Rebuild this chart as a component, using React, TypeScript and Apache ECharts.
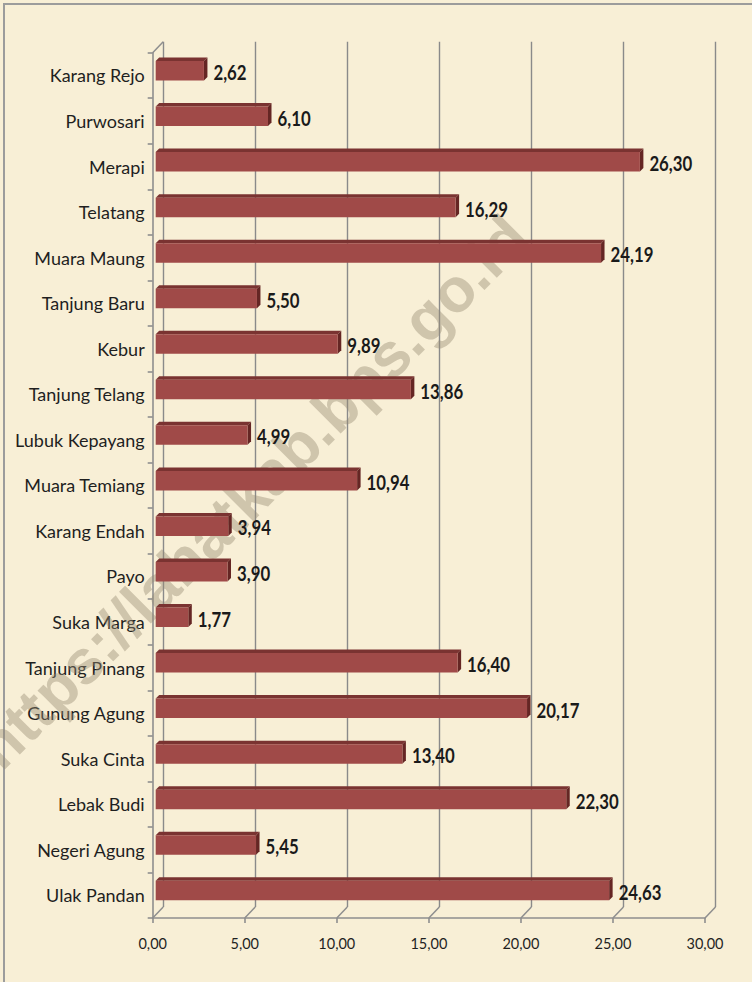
import React, { useEffect, useRef } from "react";
import * as echarts from "echarts";

const categories = [
  "Karang Rejo", "Purwosari", "Merapi", "Telatang", "Muara Maung", "Tanjung Baru",
  "Kebur", "Tanjung Telang", "Lubuk Kepayang", "Muara Temiang", "Karang Endah", "Payo",
  "Suka Marga", "Tanjung Pinang", "Gunung Agung", "Suka Cinta", "Lebak Budi",
  "Negeri Agung", "Ulak Pandan",
];
const values = [
  2.62, 6.1, 26.3, 16.29, 24.19, 5.5, 9.89, 13.86, 4.99, 10.94, 3.94, 3.9, 1.77,
  16.4, 20.17, 13.4, 22.3, 5.45, 24.63,
];
const xTicks = [0, 5, 10, 15, 20, 25, 30];
const watermarkText = "https://lahatkab.bps.go.id";

const FONT = "Lato, Roboto, sans-serif";
const fmt = (v: number) => v.toFixed(2).replace(".", ",");

// geometry (pixels)
const FRONT = { left: 152.7, top: 52.7, width: 552.3, height: 865.3 };
const DEPTH = { dx: 10.5, dy: -11 };

export default function App() {
  const ref = useRef<HTMLDivElement>(null);
  useEffect(() => {
    if (!ref.current) return;
    const chart = echarts.init(ref.current, null, { renderer: "svg" });
    const barData = values.map((v, i) => [v, i]);
    chart.setOption({
      animation: false,
      backgroundColor: "#F8EFD6",
      grid: [
        { left: FRONT.left, top: FRONT.top, width: FRONT.width, height: FRONT.height },
        {
          left: FRONT.left + DEPTH.dx,
          top: FRONT.top + DEPTH.dy,
          width: FRONT.width,
          height: FRONT.height,
        },
      ],
      xAxis: [
        {
          type: "value",
          gridIndex: 0,
          min: 0,
          max: 30,
          interval: 5,
          axisLine: { show: true, lineStyle: { color: "#8E8E8E", width: 1.6 } },
          axisTick: { show: true, length: 5, lineStyle: { color: "#8E8E8E", width: 1.6 } },
          splitLine: { show: false },
          axisLabel: {
            formatter: (v: number) => fmt(v),
            color: "#1f1f1f",
            fontFamily: FONT,
            fontSize: 14.5,
            margin: 18,
          },
        },
        {
          type: "value",
          gridIndex: 1,
          min: 0,
          max: 30,
          interval: 5,
          axisLine: { show: false },
          axisTick: { show: false },
          axisLabel: { show: false },
          splitLine: { show: true, lineStyle: { color: "#8A8A8A", width: 1.4 } },
        },
      ],
      yAxis: [
        {
          type: "category",
          gridIndex: 0,
          data: categories,
          inverse: true,
          axisLine: { show: true, lineStyle: { color: "#8E8E8E", width: 1.6 } },
          axisTick: { show: true, length: 5, lineStyle: { color: "#8E8E8E", width: 1.6 } },
          axisLabel: {
            color: "#1f1f1f",
            fontFamily: FONT,
            fontSize: 18,
            margin: 8,
          },
        },
        {
          type: "category",
          gridIndex: 1,
          data: categories,
          inverse: true,
          show: false,
        },
      ],
      graphic: [
        {
          type: "rect",
          z: 0,
          shape: { x: 4, y: 4, width: 800, height: 1000 },
          style: { fill: "none", stroke: "#9C9C9C", lineWidth: 2 },
        },
        {
          type: "text",
          z: 1,
          x: 252,
          y: 492,
          rotation: Math.PI / 4,
          style: {
            text: watermarkText,
            font: "bold 62px 'Liberation Sans', Arial, sans-serif",
            fill: "rgba(150,138,115,0.42)",
            align: "center",
            verticalAlign: "middle",
          },
        },
      ],
      series: [
        {
          type: "custom",
          xAxisIndex: 0,
          yAxisIndex: 0,
          z: 3,
          silent: true,
          data: xTicks.map((t) => [t, 0]),
          renderItem: (params: any, api: any) => {
            const cs = params.coordSys;
            const x = api.coord([api.value(0), 0])[0];
            const yb = cs.y + cs.height;
            const children: any[] = [
              {
                type: "line",
                shape: { x1: x, y1: yb, x2: x + DEPTH.dx, y2: yb + DEPTH.dy },
                style: { stroke: "#8E8E8E", lineWidth: 1.5 },
              },
            ];
            if (params.dataIndex === 0) {
              children.push({
                type: "line",
                shape: { x1: cs.x, y1: cs.y, x2: cs.x + DEPTH.dx, y2: cs.y + DEPTH.dy },
                style: { stroke: "#8E8E8E", lineWidth: 1.5 },
              });
            }
            return { type: "group", children };
          },
        },
        {
          type: "custom",
          xAxisIndex: 0,
          yAxisIndex: 0,
          z: 5,
          silent: true,
          data: barData,
          renderItem: (params: any, api: any) => {
            const val = api.value(0);
            const idx = api.value(1);
            const p0 = api.coord([0, idx]);
            const p1 = api.coord([val, idx]);
            const fx = 3;
            const fy = -4.7;
            const H = 19.5;
            const dx = 3.5;
            const dy = -3.5;
            const x0 = p0[0] + fx;
            const x1 = p1[0] + fx;
            const yc = p0[1] + fy;
            const yt = yc - H / 2;
            const yb = yc + H / 2;
            return {
              type: "group",
              children: [
                {
                  type: "polygon",
                  shape: { points: [[x0, yt], [x0 + dx, yt + dy], [x1 + dx, yt + dy], [x1, yt]] },
                  style: { fill: "#7A3331" },
                },
                {
                  type: "polygon",
                  shape: { points: [[x1, yt], [x1 + dx, yt + dy], [x1 + dx, yb + dy], [x1, yb]] },
                  style: { fill: "#652624" },
                },
                {
                  type: "rect",
                  shape: { x: x0, y: yt, width: x1 - x0, height: H },
                  style: { fill: "#A04A48" },
                },
                {
                  type: "text",
                  x: x1 + dx + 6,
                  y: yc + 1,
                  scaleX: 0.8,
                  style: {
                    text: fmt(val),
                    font: `bold 21px ${FONT}`,
                    fill: "#1a1a1a",
                    align: "left",
                    verticalAlign: "middle",
                  },
                },
              ],
            };
          },
        },
      ],
    });
    return () => chart.dispose();
  }, []);
  return (
    <div
      ref={ref}
      style={{ position: "absolute", left: 0, top: 0, width: 752, height: 982, background: "#F8EFD6" }}
    />
  );
}
